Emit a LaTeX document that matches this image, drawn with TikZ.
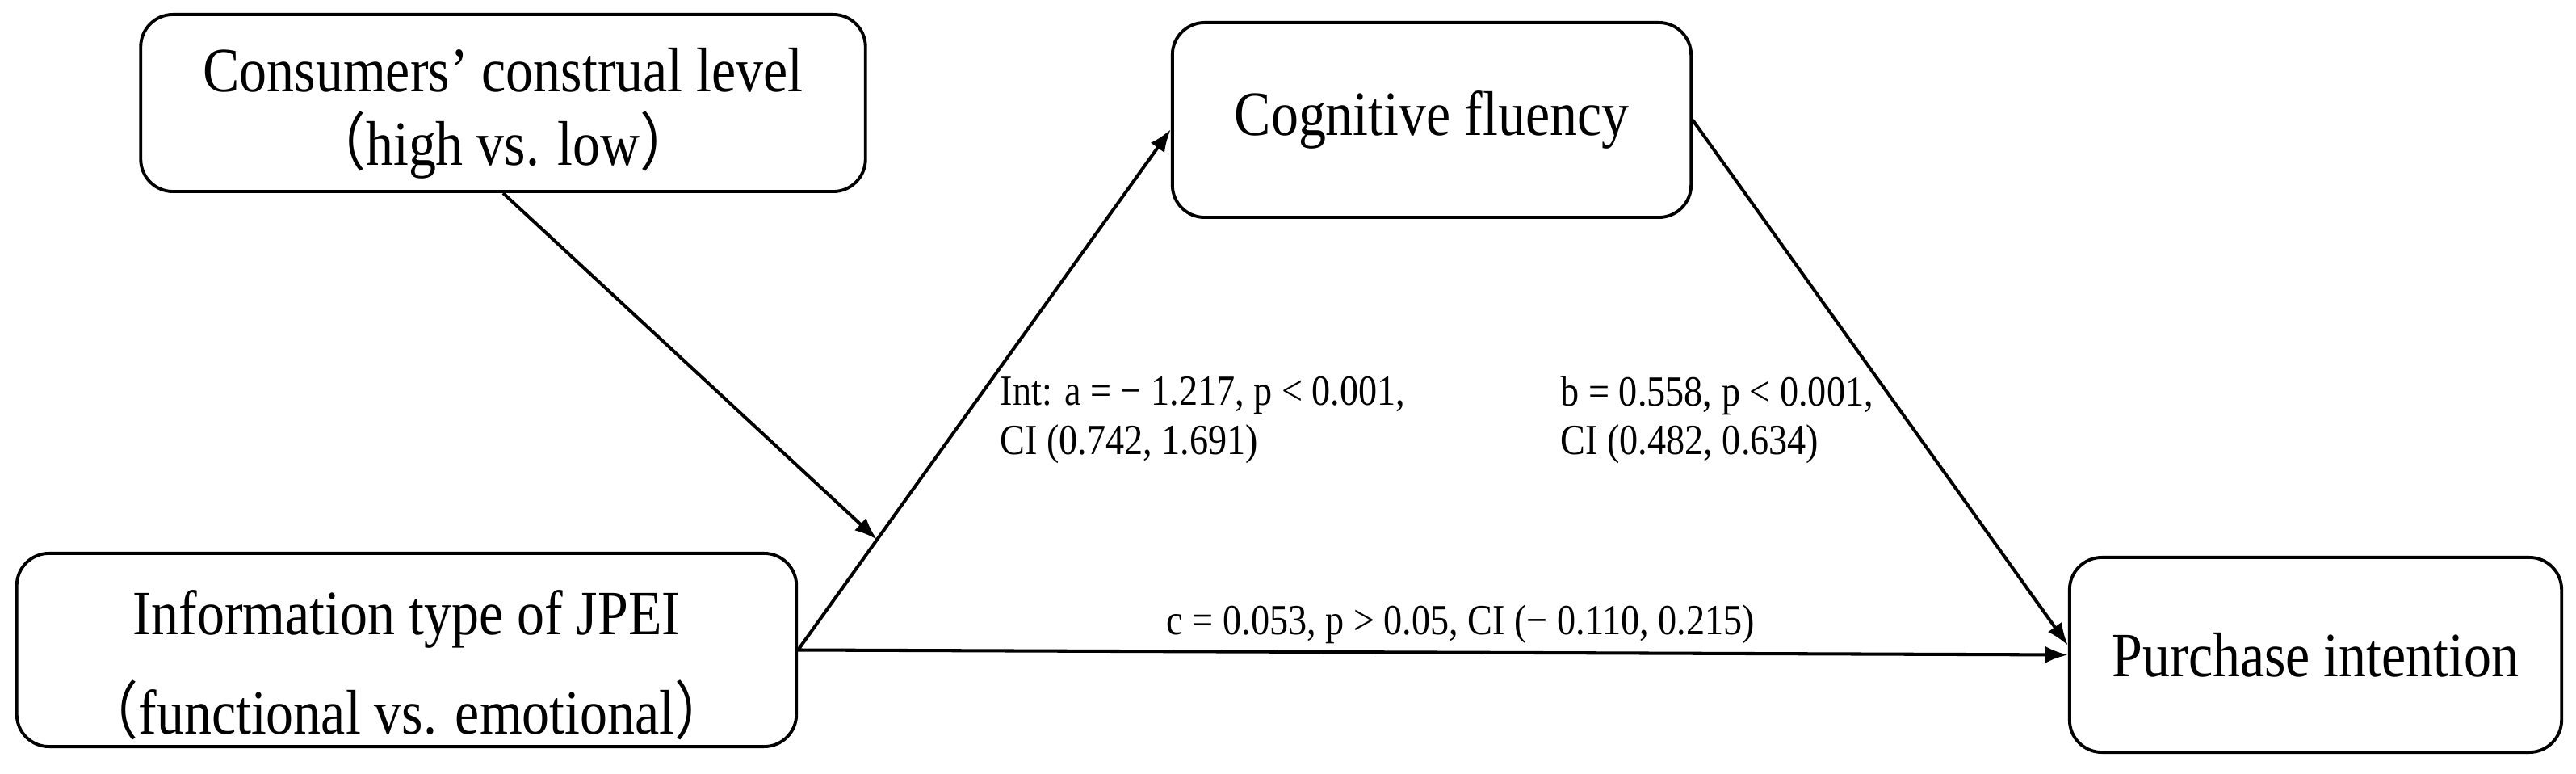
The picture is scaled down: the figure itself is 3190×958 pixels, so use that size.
\documentclass[tikz,border=0pt]{standalone}
\usepackage{fontspec}
\setmainfont{Liberation Serif}[FakeStretch=0.87]
\newfontfamily\cjk{Noto Sans CJK SC}[FakeStretch=0.87]
\usetikzlibrary{arrows.meta,calc}
\tikzset{
  varbox/.style={draw=black, line width=1.1pt, rounded corners=0.4cm, align=center, inner sep=0pt,
    font=\fontsize{22.2}{23}\selectfont},
  conn/.style={line width=1.15pt, -{Latex[length=0.28cm,width=0.21cm]}},
  stat/.style={font=\fontsize{15.1}{17.1}\selectfont, align=left, inner sep=0pt},
}
\newcommand{\lp}{{\cjk （}}
\newcommand{\rp}{{\cjk ）}}
% move the ink of a multi-line text down without changing its box
\newcommand{\lowered}[2]{\raisebox{-#1}[\height][\depth]{\begin{tabular}{@{}c@{}}#2\end{tabular}}}
\begin{document}
\begin{tikzpicture}[x=0.01cm,y=-0.01cm]
\useasboundingbox[fill=white] (0,0) rectangle (3190,958);
\node[varbox, minimum width=8.97cm, minimum height=2.19cm] (A) at (623,127.5)
  {\lowered{4.3pt}{Consumers’ construal level\\\lp high vs. low\rp}};
\node[varbox, minimum width=6.42cm, minimum height=2.41cm] (C) at (1773,148.5)
  {Cognitive fluency};
\node[varbox, minimum width=9.65cm, minimum height=2.39cm] (I) at (503.5,804.5)
  {\lowered{7.5pt}{Information type of JPEI\\[9pt]\lp functional vs. emotional\rp}};
\node[varbox, minimum width=6.09cm, minimum height=2.41cm] (P) at (2867.5,810.5)
  {Purchase intention};
\draw[conn] (I.east) -- ([yshift=-0.115cm]C.west);
\coordinate (M) at ($(I.east)!0.212!([yshift=-0.115cm]C.west)$);
\draw[conn] (A.south) -- (M);
\draw[conn] (C.east) -- ([yshift=0.115cm]P.west);
\draw[conn] (I.east) -- (P.west);
\node[stat, anchor=west] (la) at (1238,520) {Int: a = − 1.217, p < 0.001,\\CI (0.742, 1.691)};
\node[stat, anchor=west] (lb) at (1932,520) {b = 0.558, p < 0.001,\\CI (0.482, 0.634)};
\node[stat] (lc) at (1809,773) {c = 0.053, p > 0.05, CI (− 0.110, 0.215)};
\end{tikzpicture}
\end{document}
